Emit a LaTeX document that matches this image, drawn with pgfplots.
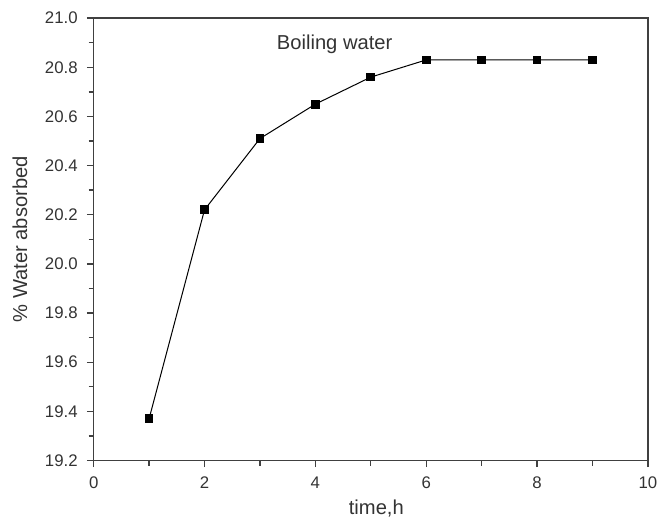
\documentclass[border=0pt]{standalone}
\usepackage{fontspec}
\setmainfont{Liberation Sans}
\usepackage{pgfplots}
\pgfplotsset{compat=1.18}
\begin{document}
\begin{tikzpicture}
\begin{axis}[
    width=330pt, height=263.4pt,
    scale only axis,
    xmin=0, xmax=10, ymin=19.2, ymax=21.0,
    xtick={0,2,...,10},
    ytick={19.2,19.4,...,21.0},
    minor xtick={1,3,5,7,9},
    minor ytick={19.3,19.5,...,20.9},
    tick align=outside,
    xtick pos=bottom, ytick pos=left,
    major tick length=4pt, minor tick length=3pt,
    axis line style={line width=0.9pt, draw=black!75},
    every tick/.style={line width=0.8pt, black!75},
    /pgf/number format/assume math mode=true,
    yticklabel style={/pgf/number format/fixed, /pgf/number format/fixed zerofill,
        /pgf/number format/precision=1, xshift=-2pt},
    ticklabel style={font=\fontsize{10}{12}\selectfont, text=black!80},
    xticklabel style={yshift=-2pt},
    xlabel={time,h}, ylabel={\% Water absorbed},
    label style={font=\fontsize{12}{14}\selectfont, text=black!80},
    xlabel style={at={(rel axis cs:0.51,-0.109)}, anchor=center},
    ylabel style={at={(rel axis cs:-0.133,0.5)}, anchor=center},
]
\addplot[black, line width=0.6pt, mark=square*, mark size=2.3pt] coordinates {
(1,19.37) (2,20.22) (3,20.51) (4,20.65) (5,20.76) (6,20.83) (7,20.83) (8,20.83) (9,20.83)};
\node[anchor=west, font=\fontsize{12}{14}\selectfont, text=black!80] at (axis cs:3.2,20.895) {Boiling water};
\coordinate (bl) at (rel axis cs:-0.169,-0.1458);
\coordinate (tr) at (rel axis cs:1.0236,1.041);
\end{axis}
\pgfresetboundingbox
\path[use as bounding box] (bl) rectangle (tr);
\end{tikzpicture}
\end{document}
